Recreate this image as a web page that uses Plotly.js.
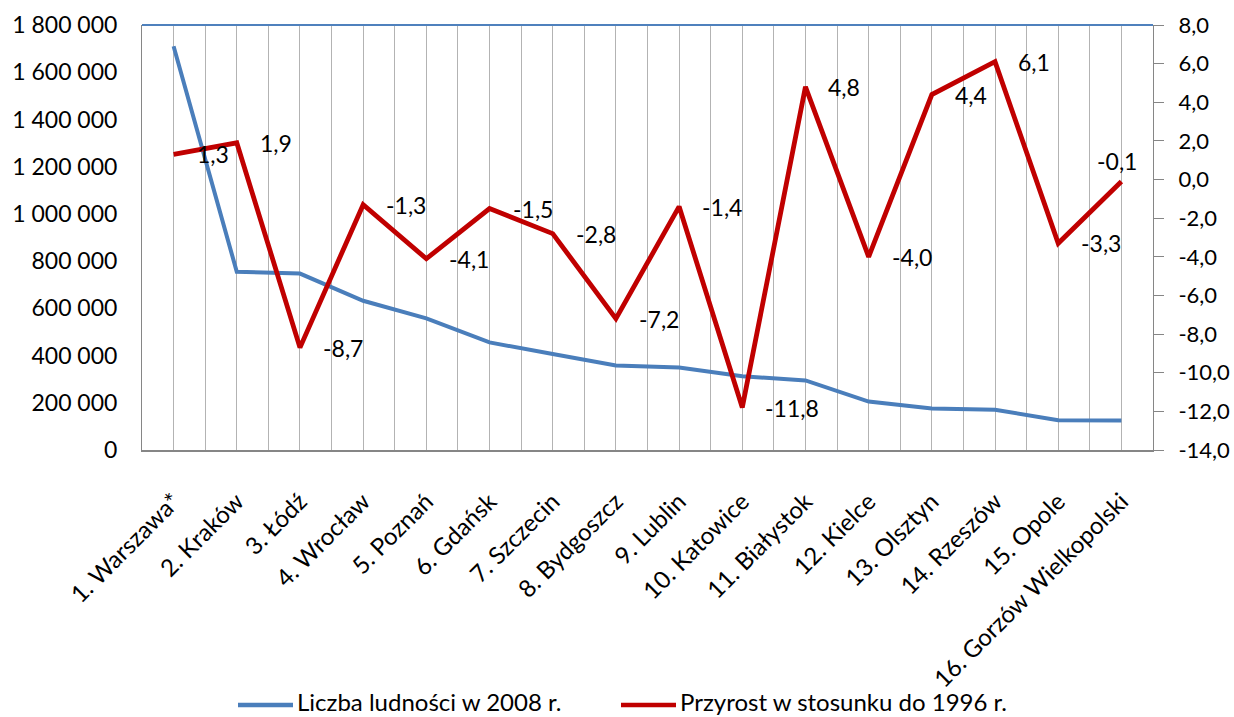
<!DOCTYPE html>
<html>
<head>
<meta charset="utf-8">
<script src="https://cdn.plot.ly/plotly-3.0.1.min.js"></script>
<style>html,body{margin:0;padding:0;background:#fff;}#chart{width:1234px;height:717px;}</style>
</head>
<body>
<div id="chart"></div>
<script>
const categories = ["1. Warszawa*", "2. Kraków", "3. Łódź", "4. Wrocław", "5. Poznań", "6. Gdańsk", "7. Szczecin", "8. Bydgoszcz", "9. Lublin", "10. Katowice", "11. Białystok", "12. Kielce", "13. Olsztyn", "14. Rzeszów", "15. Opole", "16. Gorzów Wielkopolski"];
const population2008 = [1709781, 754624, 747152, 632162, 557264, 455581, 406427, 357652, 349440, 312000, 294830, 205094, 176142, 170653, 125992, 125149];
const growthSince1996 = [1.3, 1.9, -8.7, -1.3, -4.1, -1.5, -2.8, -7.2, -1.4, -11.8, 4.8, -4.0, 4.4, 6.1, -3.3, -0.1];
const leftTicks = [0, 200000, 400000, 600000, 800000, 1000000, 1200000, 1400000, 1600000, 1800000];
const rightTicks = [-14, -12, -10, -8, -6, -4, -2, 0, 2, 4, 6, 8];
const seriesNames = ["Liczba ludności w 2008 r.", "Przyrost w stosunku do 1996 r."];
const seriesColors = ["#4a7ebb", "#c00000"];

const xIdx = categories.map((c, i) => i);
const fontFam = "Lato, 'Open Sans', sans-serif";
const fmtThousands = v => String(v).replace(/\B(?=(\d{3})+(?!\d))/g, " ");
const fmtDec = v => v.toFixed(1).replace(".", ",");

const traces = [
  {x: xIdx, y: population2008, name: seriesNames[0], type: "scatter", mode: "lines",
   line: {color: seriesColors[0], width: 4}, yaxis: "y"},
  {x: xIdx, y: growthSince1996, name: seriesNames[1], type: "scatter", mode: "lines",
   line: {color: seriesColors[1], width: 4.8}, yaxis: "y2"}
];

const last = growthSince1996.length - 1;
const annotations = growthSince1996.map((v, i) => (i === last ? {
  x: i, y: v, xref: "x", yref: "y2", text: fmtDec(v), showarrow: false,
  xanchor: "center", yanchor: "bottom", xshift: -4, yshift: 4,
  font: {family: fontFam, size: 23, color: "#000"}
} : {
  x: i, y: v, xref: "x", yref: "y2", text: fmtDec(v), showarrow: false,
  xanchor: "left", yanchor: "middle", xshift: 21,
  font: {family: fontFam, size: 23, color: "#000"}
}));

// manual legend (line sample + text)
const W = 1234, H = 717, ML = 142, MR = 81, MT = 25, MB = 267;
const pw = W - ML - MR, ph = H - MT - MB;
const px = X => (X - ML) / pw;
const py = Y => (H - MB - Y) / ph;
const legendStarts = [238, 621];
const legendShapes = seriesNames.map((n, k) => ({
  type: "line", xref: "paper", yref: "paper",
  x0: px(legendStarts[k]), x1: px(legendStarts[k] + 55), y0: py(705), y1: py(705),
  line: {color: seriesColors[k], width: 4.5}
}));
const legendTexts = seriesNames.map((n, k) => ({
  xref: "paper", yref: "paper", x: px(legendStarts[k] + 57), y: py(702),
  xanchor: "left", yanchor: "middle", text: n, showarrow: false,
  font: {family: fontFam, size: 24, color: "#000"}
}));

const layout = {
  width: W, height: H,
  margin: {l: ML, r: MR, t: MT, b: MB},
  paper_bgcolor: "#fff", plot_bgcolor: "#fff",
  showlegend: false,
  xaxis: {
    range: [-0.5, 15.5], tickvals: xIdx, ticktext: categories, tickangle: -45,
    showgrid: true, gridcolor: "#b3b3b3", gridwidth: 1,
    minor: {dtick: 0.5, tick0: -0.5, showgrid: true, gridcolor: "#b3b3b3", gridwidth: 1},
    showline: true, linecolor: "#868686", linewidth: 2, ticks: "",
    zeroline: false, fixedrange: true, automargin: false, ticklabelstandoff: 26,
    tickfont: {family: fontFam, size: 24, color: "#000"}
  },
  yaxis: {
    range: [0, 1800000], tickvals: leftTicks, ticktext: leftTicks.map(fmtThousands),
    showgrid: false, zeroline: false, showline: true, linecolor: "#868686", linewidth: 1,
    ticks: "", automargin: false, tickfont: {family: fontFam, size: 23, color: "#000"}, ticklabelstandoff: 19
  },
  yaxis2: {
    range: [-14, 8], tickvals: rightTicks, ticktext: rightTicks.map(fmtDec),
    overlaying: "y", side: "right", showgrid: false, zeroline: false,
    showline: true, linecolor: "#868686", linewidth: 1, automargin: false,
    ticks: "outside", ticklen: 10, tickcolor: "#868686", ticklabelstandoff: 10,
    tickfont: {family: fontFam, size: 22, color: "#000"}
  },
  shapes: [{type: "line", xref: "paper", yref: "paper", x0: 0, x1: 1, y0: 1, y1: 1,
            line: {color: "#4f81bd", width: 2}}].concat(legendShapes),
  annotations: annotations.concat(legendTexts)
};

Plotly.newPlot("chart", traces, layout, {displayModeBar: false, staticPlot: true});
</script>
</body>
</html>
